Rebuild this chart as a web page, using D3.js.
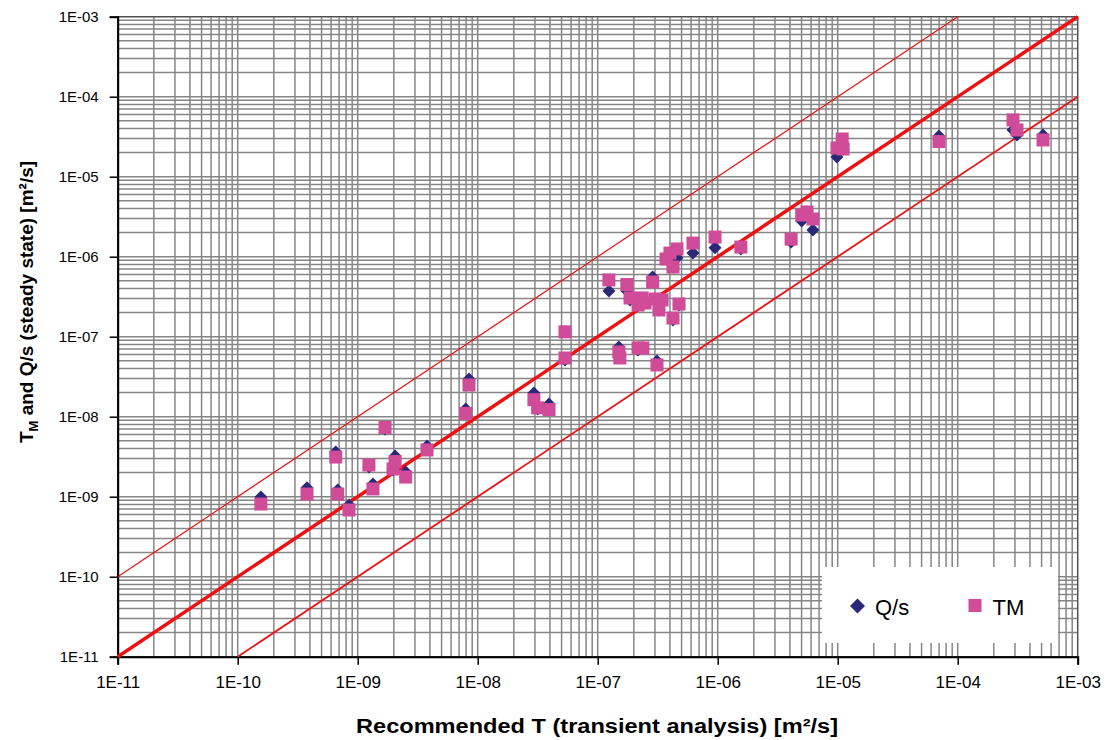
<!DOCTYPE html>
<html>
<head>
<meta charset="utf-8">
<script src="https://cdn.jsdelivr.net/npm/d3@7"></script>
<style>
  body { margin: 0; background: #fff; }
  text { font-family: Arial, 'Liberation Sans', sans-serif; }
</style>
</head>
<body>
<div id="chart"></div>
<script>
// recommended T (transient analysis), m2/s
const recommendedT = [
  1.56e-10, 3.78e-10, 6.56e-10, 6.81e-10, 8.46e-10, 1.24e-9, 1.34e-9, 1.69e-9,
  1.97e-9, 2.05e-9, 2.51e-9, 3.78e-9, 7.94e-9, 8.46e-9, 2.94e-8, 3.16e-8,
  3.93e-8, 5.34e-8, 5.34e-8, 1.24e-7, 1.5e-7, 1.53e-7, 1.75e-7, 1.86e-7,
  2.17e-7, 2.34e-7, 2.38e-7, 2.48e-7, 2.17e-7, 2.87e-7, 3.0e-7, 3.12e-7,
  3.24e-7, 3.44e-7, 3.71e-7, 4.0e-7, 4.24e-7, 4.24e-7, 4.58e-7, 4.76e-7,
  6.22e-7, 9.5e-7, 1.56e-6, 4.09e-6, 5.01e-6, 5.55e-6, 6.22e-6, 9.86e-6,
  1.09e-5, 1.11e-5, 6.98e-5, 2.89e-4, 3.12e-4, 5.14e-4,
]
// Q/s (steady state)
const qs = [
  9.9e-10, 1.29e-9, 3.62e-9, 1.21e-9, 7.87e-10, 2.35e-9, 1.44e-9, 7.02e-9,
  2.16e-9, 3.23e-9, 2.04e-9, 4.31e-9, 1.25e-8, 2.96e-8, 1.98e-8, 1.25e-8,
  1.44e-8, 5.12e-8, 1.15e-7, 3.72e-7, 7.43e-8, 5.57e-8, 3.72e-7, 2.88e-7,
  6.82e-8, 3.05e-7, 7.23e-8, 2.64e-7, 2.49e-7, 5.57e-7, 2.96e-7, 4.97e-8,
  2.16e-7, 2.79e-7, 9.35e-7, 1.11e-6, 7.43e-7, 1.62e-7, 9.64e-7, 2.49e-7,
  1.11e-6, 1.29e-6, 1.25e-6, 1.53e-6, 2.79e-6, 3.62e-6, 2.16e-6, 1.76e-5,
  2.7e-5, 2.22e-5, 3.23e-5, 3.84e-5, 3.32e-5, 3.32e-5,
]
// TM (steady state)
const tm = [
  8.1e-10, 1.08e-9, 3.13e-9, 1.08e-9, 6.82e-10, 2.49e-9, 1.25e-9, 7.33e-9,
  2.22e-9, 2.75e-9, 1.76e-9, 3.84e-9, 1.1e-8, 2.49e-8, 1.63e-8, 1.29e-8,
  1.23e-8, 5.42e-8, 1.15e-7, 5.12e-7, 6.44e-8, 5.42e-8, 4.49e-7, 3.05e-7,
  7.23e-8, 3.05e-7, 7.23e-8, 2.64e-7, 2.49e-7, 4.83e-7, 2.96e-7, 4.43e-8,
  2.16e-7, 2.88e-7, 9.35e-7, 1.11e-6, 7.43e-7, 1.71e-7, 1.25e-6, 2.56e-7,
  1.48e-6, 1.76e-6, 1.32e-6, 1.66e-6, 3.32e-6, 3.62e-6, 2.96e-6, 2.29e-5,
  2.96e-5, 2.22e-5, 2.75e-5, 5.12e-5, 3.84e-5, 2.88e-5,
]

const tickValues = [1e-11, 1e-10, 1e-9, 1e-8, 1e-7, 1e-6, 1e-5, 1e-4, 1e-3]
const tickLabels = ['1E-11', '1E-10', '1E-09', '1E-08', '1E-07', '1E-06', '1E-05', '1E-04', '1E-03']
// reference lines T_ss = factor * T_rec
const lineFactors = [10, 1, 0.1]
const seriesNames = ['Q/s', 'TM']

const chart = () => {
  const margin = { top: 16.7, right: 36.3, bottom: 83.3, left: 117.7 }
  const width = 1114 - margin.left - margin.right
  const height = 740 - margin.top - margin.bottom

  const svg = d3
    .select('#chart')
    .append('svg')
    .attr('width', 1114)
    .attr('height', 740)

  const g = svg.append('g').attr('transform', `translate(${margin.left}, ${margin.top})`)

  const xScale = d3.scaleLog().domain([1e-11, 1e-3]).range([0, width])
  const yScale = d3.scaleLog().domain([1e-11, 1e-3]).range([height, 0])

  // minor + major grid, 1..9 per decade
  const gridValues = []
  tickValues.slice(0, -1).forEach((v) => {
    d3.range(1, 10).forEach((m) => gridValues.push(v * m))
  })
  gridValues.push(1e-3)

  const grid = g.append('g').attr('stroke', '#868686').attr('stroke-width', 1.5)
  grid
    .selectAll('.gx')
    .data(gridValues)
    .join('line')
    .attr('x1', (d) => xScale(d))
    .attr('x2', (d) => xScale(d))
    .attr('y1', 0)
    .attr('y2', height)
  grid
    .selectAll('.gy')
    .data(gridValues)
    .join('line')
    .attr('class', 'gy')
    .attr('y1', (d) => yScale(d))
    .attr('y2', (d) => yScale(d))
    .attr('x1', 0)
    .attr('x2', width)

  g.append('rect')
    .attr('width', width)
    .attr('height', height)
    .attr('fill', 'none')
    .attr('stroke', '#444')
    .attr('stroke-width', 1)

  // axes
  const xAxis = g
    .append('g')
    .attr('transform', `translate(0, ${height})`)
    .call(
      d3
        .axisBottom(xScale)
        .tickValues(tickValues)
        .tickFormat((d, i) => tickLabels[i])
        .tickSize(8)
        .tickPadding(11)
    )
  xAxis.select('.domain').attr('stroke', '#000').attr('stroke-width', 2)
  xAxis.selectAll('.tick line').attr('stroke', '#000').attr('stroke-width', 1.5)
  xAxis.selectAll('.tick text').attr('font-size', 17).attr('fill', '#000')

  const yAxis = g.append('g').call(
    d3
      .axisLeft(yScale)
      .tickValues(tickValues)
      .tickFormat((d, i) => tickLabels[i])
      .tickSize(8)
      .tickPadding(11)
  )
  yAxis.select('.domain').attr('stroke', '#000').attr('stroke-width', 2)
  yAxis.selectAll('.tick line').attr('stroke', '#000').attr('stroke-width', 1.5)
  yAxis.selectAll('.tick text').attr('font-size', 15).attr('fill', '#000')

  // 1:1 and +-1 decade lines, clipped to the plot domain
  const [lo, hi] = xScale.domain()
  const lineWidths = [1.2, 3.5, 1.8]
  lineFactors.forEach((f, i) => {
    const x0 = Math.max(lo, lo / f)
    const x1 = Math.min(hi, hi / f)
    g.append('line')
      .attr('x1', xScale(x0))
      .attr('y1', yScale(x0 * f))
      .attr('x2', xScale(x1))
      .attr('y2', yScale(x1 * f))
      .attr('stroke', '#ee1111')
      .attr('stroke-width', lineWidths[i])
  })

  const points = recommendedT.map((t, i) => ({ t, qs: qs[i], tm: tm[i] }))
  const half = 6.5
  const diamond = `M0,${-half}L${half},0L0,${half}L${-half},0Z`

  g.selectAll('.qs')
    .data(points)
    .join('path')
    .attr('class', 'qs')
    .attr('d', diamond)
    .attr('transform', (d) => `translate(${xScale(d.t)}, ${yScale(d.qs)})`)
    .attr('fill', '#2b2878')

  g.selectAll('.tm')
    .data(points)
    .join('rect')
    .attr('class', 'tm')
    .attr('x', (d) => xScale(d.t) - half)
    .attr('y', (d) => yScale(d.tm) - half)
    .attr('width', half * 2)
    .attr('height', half * 2)
    .attr('fill', '#d04b98')

  // legend
  const legend = g.append('g').attr('transform', `translate(${822 - margin.left}, ${567 - margin.top})`)
  legend.append('rect').attr('width', 236).attr('height', 76).attr('fill', '#fff')
  legend
    .append('path')
    .attr('d', `M0,-7.5L7.5,0L0,7.5L-7.5,0Z`)
    .attr('transform', 'translate(35.5, 39)')
    .attr('fill', '#2b2878')
  legend
    .append('text')
    .attr('x', 53)
    .attr('y', 48)
    .attr('font-size', 22)
    .text(seriesNames[0])
  legend.append('rect').attr('x', 146.5).attr('y', 32).attr('width', 13).attr('height', 13).attr('fill', '#d04b98')
  legend
    .append('text')
    .attr('x', 170.5)
    .attr('y', 48)
    .attr('font-size', 22)
    .text(seriesNames[1])

  // axis titles
  svg
    .append('text')
    .attr('x', 597)
    .attr('y', 733)
    .attr('font-size', 20)
    .attr('font-weight', 'bold')
    .attr('textLength', 482)
    .attr('lengthAdjust', 'spacingAndGlyphs')
    .style('text-anchor', 'middle')
    .text('Recommended T (transient analysis) [m²/s]')

  const yTitle = svg
    .append('text')
    .attr('transform', 'translate(33, 302) rotate(-90)')
    .attr('font-size', 19)
    .attr('font-weight', 'bold')
    .style('text-anchor', 'middle')
  yTitle.append('tspan').text('T')
  yTitle.append('tspan').attr('font-size', 13).attr('dy', 5).text('M')
  yTitle.append('tspan').attr('dy', -5).text(' and Q/s (steady state) [m²/s]')
}

chart()
</script>
</body>
</html>
